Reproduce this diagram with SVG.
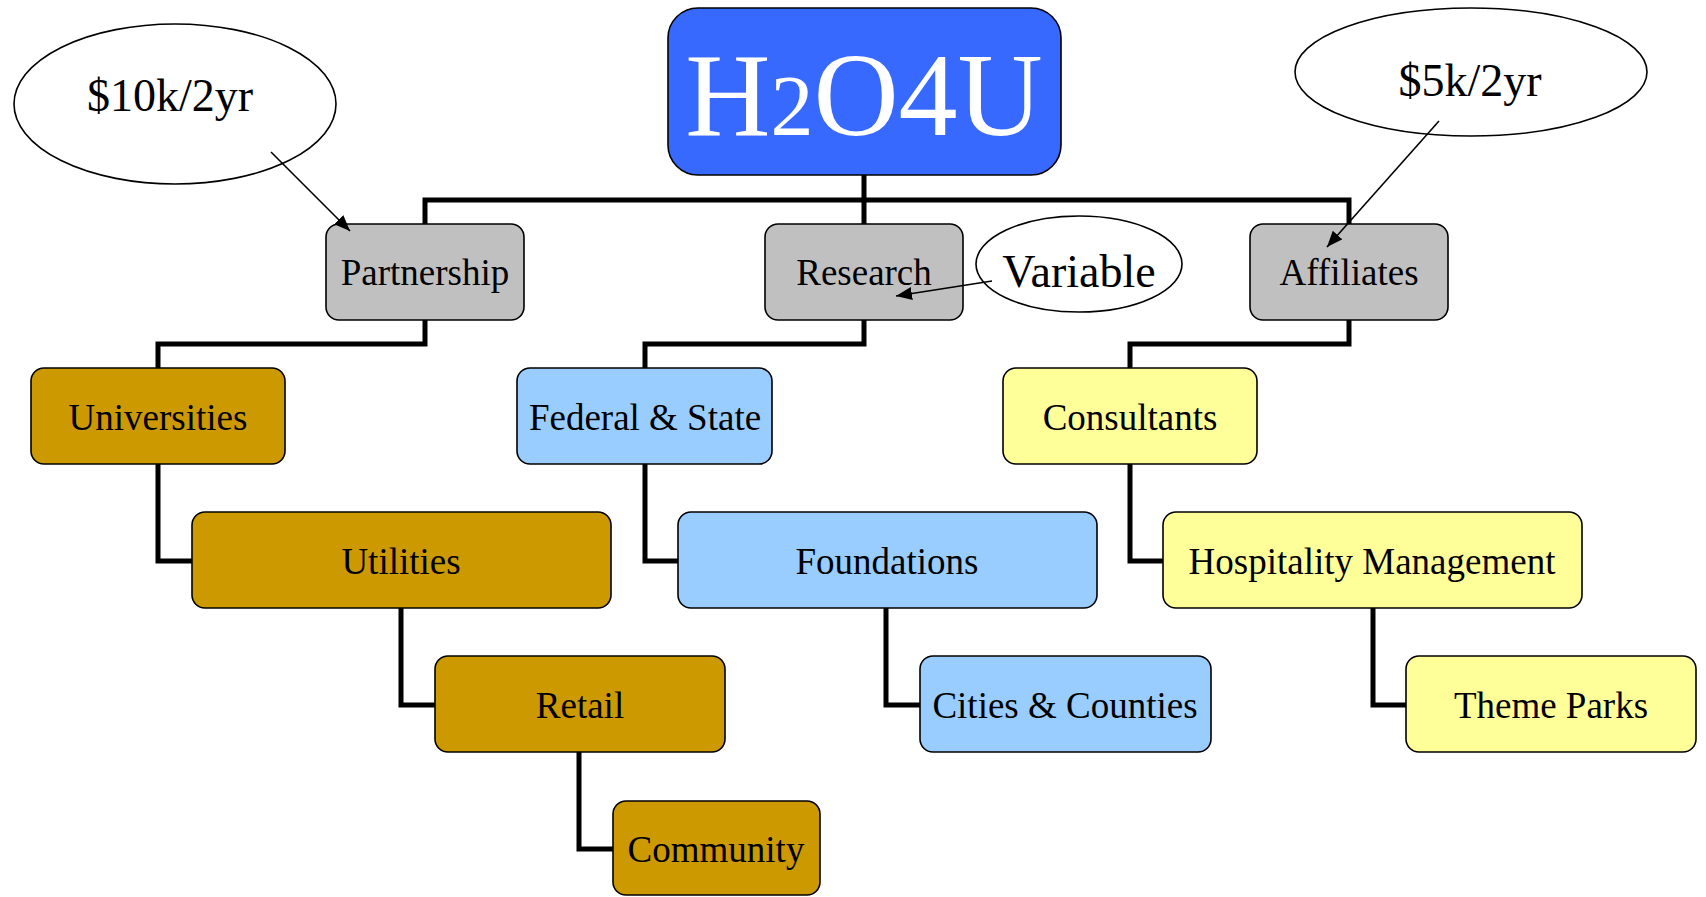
<svg xmlns="http://www.w3.org/2000/svg" width="1706" height="897" viewBox="0 0 1706 897">
<style>
.box{stroke:#000;stroke-width:1.6}
.gray{fill:#C0C0C0}.gold{fill:#CC9900}.blue{fill:#99CCFF}.yel{fill:#FFFF99}
.t{font-family:"Liberation Serif","Times New Roman",serif;font-size:37px;fill:#000;text-anchor:middle}
.big{font-size:46px}
.bus{fill:none;stroke:#000;stroke-width:5;stroke-linejoin:miter}
.arr{stroke:#000;stroke-width:1.6;fill:none;marker-end:url(#ah)}
.ell{fill:#fff;stroke:#000;stroke-width:1.6}
</style>
<defs>
<marker id="ah" viewBox="0 0 10 10" refX="10" refY="5" markerWidth="16" markerHeight="13" markerUnits="userSpaceOnUse" orient="auto" preserveAspectRatio="none">
<path d="M0,0 L10,5 L0,10 z" fill="#000"/>
</marker>
</defs>
<rect width="1706" height="897" fill="#fff"/>
<g id="connectors">
<path class="bus" d="M864,175 V200 M425,224 V200 H1349 V224 M864,200 V224"/>
<path class="bus" d="M425,320 V344 H158 V368 M864,320 V344 H645 V368 M1349,320 V344 H1130 V368"/>
<path class="bus" d="M158,464 V561 H192 M645,464 V561 H679 M1130,464 V561 H1163"/>
<path class="bus" d="M401,608 V705 H435 M886,608 V705 H920 M1373,608 V705 H1406"/>
<path class="bus" d="M579,752 V849 H613"/>
</g>
<g id="root">
<rect class="box" x="668" y="8" width="393" height="167" rx="30" fill="#3769FF"/>
<text x="864" y="135" font-family="'Liberation Serif','Times New Roman',serif" font-size="118" fill="#fff" text-anchor="middle">H<tspan font-size="86">2</tspan>O4U</text>
</g>
<g id="partnership">
<rect class="box gray" x="326" y="224" width="198" height="96" rx="13"/>
<text class="t" x="425" y="285">Partnership</text>
</g>
<g id="research">
<rect class="box gray" x="765" y="224" width="198" height="96" rx="13"/>
<text class="t" x="864" y="285">Research</text>
</g>
<g id="affiliates">
<rect class="box gray" x="1250" y="224" width="198" height="96" rx="13"/>
<text class="t" x="1349" y="285">Affiliates</text>
</g>
<g id="cost10k">
<ellipse class="ell" cx="175" cy="104" rx="161" ry="80"/>
<text class="t big" x="170" y="111">$10k/2yr</text>
</g>
<g id="cost5k">
<ellipse class="ell" cx="1471" cy="72" rx="176" ry="64"/>
<text class="t big" x="1470" y="96">$5k/2yr</text>
</g>
<g id="variable">
<ellipse class="ell" cx="1079" cy="264" rx="103" ry="48"/>
<text class="t big" x="1079" y="287">Variable</text>
</g>
<g id="universities">
<rect class="box gold" x="31" y="368" width="254" height="96" rx="13"/>
<text class="t" x="158" y="430">Universities</text>
</g>
<g id="utilities">
<rect class="box gold" x="192" y="512" width="419" height="96" rx="13"/>
<text class="t" x="401" y="574">Utilities</text>
</g>
<g id="retail">
<rect class="box gold" x="435" y="656" width="290" height="96" rx="13"/>
<text class="t" x="580" y="718">Retail</text>
</g>
<g id="community">
<rect class="box gold" x="613" y="801" width="207" height="94" rx="13"/>
<text class="t" x="716" y="862">Community</text>
</g>
<g id="federal">
<rect class="box blue" x="517" y="368" width="255" height="96" rx="13"/>
<text class="t" x="645" y="430">Federal &amp; State</text>
</g>
<g id="foundations">
<rect class="box blue" x="678" y="512" width="419" height="96" rx="13"/>
<text class="t" x="887" y="574">Foundations</text>
</g>
<g id="cities">
<rect class="box blue" x="920" y="656" width="291" height="96" rx="13"/>
<text class="t" x="1065" y="718">Cities &amp; Counties</text>
</g>
<g id="consultants">
<rect class="box yel" x="1003" y="368" width="254" height="96" rx="13"/>
<text class="t" x="1130" y="430">Consultants</text>
</g>
<g id="hospitality">
<rect class="box yel" x="1163" y="512" width="419" height="96" rx="13"/>
<text class="t" x="1372" y="574">Hospitality Management</text>
</g>
<g id="themeparks">
<rect class="box yel" x="1406" y="656" width="290" height="96" rx="13"/>
<text class="t" x="1551" y="718">Theme Parks</text>
</g>
<g id="annotations">
<line class="arr" x1="271" y1="152" x2="350" y2="231"/>
<line class="arr" x1="1439" y1="121" x2="1327" y2="247"/>
<line class="arr" x1="992" y1="281" x2="896" y2="296"/>
</g>
</svg>
